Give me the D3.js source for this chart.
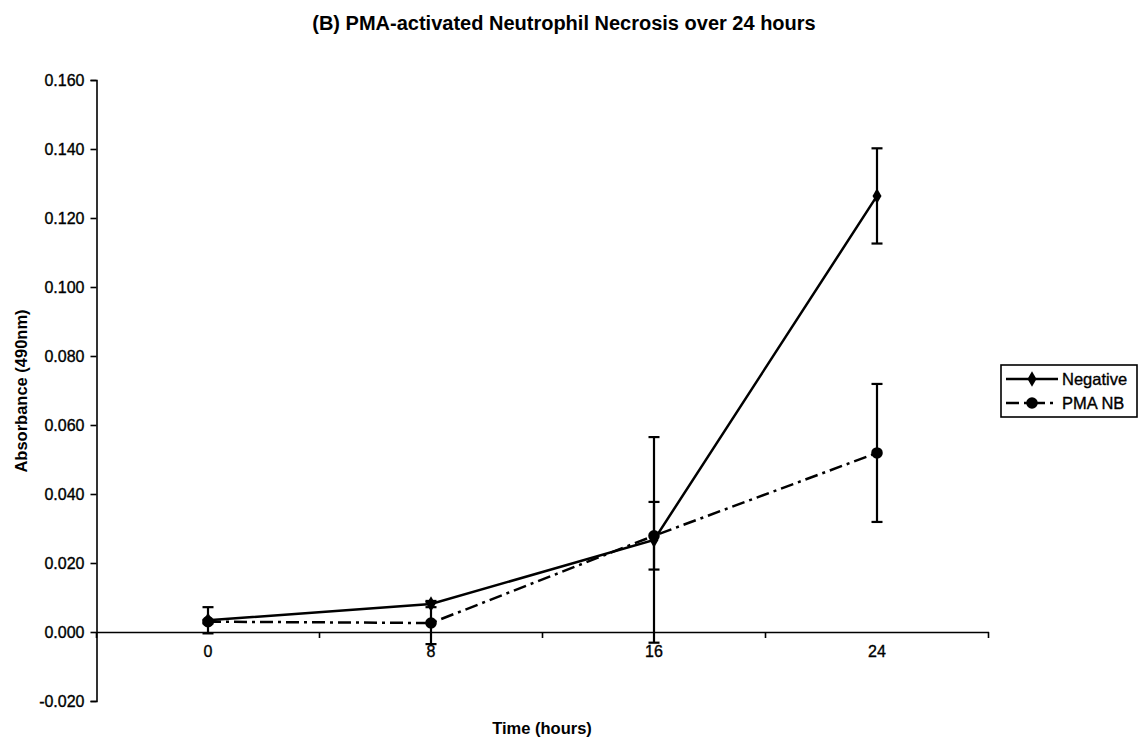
<!DOCTYPE html>
<html>
<head>
<meta charset="utf-8">
<script src="https://cdn.jsdelivr.net/npm/d3@7"></script>
<style>
  body { margin: 0; background: white; }
  text { font-family: "Liberation Sans", Arial, Helvetica, sans-serif; }
</style>
</head>
<body>
<div id="container"></div>
<script>
let w = 1141;
let h = 740;

// the values
let times = ["0", "8", "16", "24"];
let negative = [0.0034, 0.0081, 0.0267, 0.1264];
let negativeErr = [0.0038, 0.0009, 0.0298, 0.0138];
let pmaNB = [0.0030, 0.0026, 0.0279, 0.0519];
let pmaNBErr = [0.0005, 0.0061, 0.0098, 0.0200];

let yTicks = [-0.02, 0, 0.02, 0.04, 0.06, 0.08, 0.10, 0.12, 0.14, 0.16];
let yTickLabels = ["-0.020", "0.000", "0.020", "0.040", "0.060", "0.080", "0.100", "0.120", "0.140", "0.160"];

let seriesNames = ["Negative", "PMA NB"];

let viz = d3.select("#container")
  .append("svg")
    .attr("width", w)
    .attr("height", h)
    .style("background-color", "white")
;

// plot area ("top" is taken by window.top, hence the prefix)
let plotLeft = 96.5;
let plotRight = 988.5;
let plotTop = 80;
let plotBottom = 701;

let xScale = d3.scaleBand().domain(times).range([plotLeft, plotRight]);
let yScale = d3.scaleLinear().domain([-0.02, 0.16]).range([plotBottom, plotTop]);

// y axis
let yAxis = d3.axisLeft(yScale)
  .tickValues(yTicks)
  .tickSize(6)
  .tickPadding(6)
  .tickFormat(function(d, i){ return yTickLabels[i]; });
let yAxisGroup = viz.append("g").attr("class", "yaxis")
  .attr("transform", "translate(" + plotLeft + ",0)")
  .call(yAxis);
yAxisGroup.select(".domain").attr("stroke", "#000").attr("stroke-width", 1.6);
yAxisGroup.selectAll(".tick line").attr("stroke", "#000").attr("stroke-width", 1.6);
yAxisGroup.selectAll("text")
  .attr("font-size", 16).attr("fill", "#000")
  .attr("stroke", "#000").attr("stroke-width", 0.35);

// x axis sits on zero
let xAxis = d3.axisBottom(xScale).tickSize(0).tickPadding(14);
let xAxisGroup = viz.append("g").attr("class", "xaxis")
  .attr("transform", "translate(0," + yScale(0) + ")")
  .call(xAxis);
xAxisGroup.select(".domain").attr("stroke", "#000").attr("stroke-width", 1.6);
xAxisGroup.selectAll("text")
  .attr("font-size", 16).attr("fill", "#000")
  .attr("stroke", "#000").attr("stroke-width", 0.35);

// tick marks between the categories
let boundaries = times.map(function(d){ return xScale(d); }).concat([plotRight]);
xAxisGroup.selectAll(".bound").data(boundaries).enter()
  .append("line")
    .attr("class", "bound")
    .attr("x1", function(d){ return d; })
    .attr("x2", function(d){ return d; })
    .attr("y1", 0)
    .attr("y2", 6)
    .attr("stroke", "#000")
    .attr("stroke-width", 1.6)
;

function cx(i){
  return xScale(times[i]) + xScale.bandwidth() / 2;
}

let line = d3.line()
  .x(function(d, i){ return cx(i); })
  .y(function(d){ return yScale(d); });

let series = [
  { name: seriesNames[0], values: negative, err: negativeErr, dash: null, marker: "diamond" },
  { name: seriesNames[1], values: pmaNB, err: pmaNBErr, dash: "13,5,3,5", marker: "circle" }
];

function markerPath(s){
  return s.marker == "diamond"
    ? d3.symbol().type(d3.symbolDiamond).size(70)()
    : d3.symbol().type(d3.symbolCircle).size(105)();
}

let plot = viz.append("g").attr("class", "plot");

series.forEach(function(s){
  let g = plot.append("g").attr("class", "series");

  // error bars
  let eb = g.selectAll(".err").data(s.values).enter().append("g").attr("class", "err");
  eb.append("line")
    .attr("x1", function(d, i){ return cx(i); })
    .attr("x2", function(d, i){ return cx(i); })
    .attr("y1", function(d, i){ return yScale(d - s.err[i]); })
    .attr("y2", function(d, i){ return yScale(d + s.err[i]); })
    .attr("stroke", "#000").attr("stroke-width", 2.2);
  [-1, 1].forEach(function(sign){
    eb.append("line")
      .attr("x1", function(d, i){ return cx(i) - 5.5; })
      .attr("x2", function(d, i){ return cx(i) + 5.5; })
      .attr("y1", function(d, i){ return yScale(d + sign * s.err[i]); })
      .attr("y2", function(d, i){ return yScale(d + sign * s.err[i]); })
      .attr("stroke", "#000").attr("stroke-width", 2.2);
  });

  g.append("path")
    .datum(s.values)
    .attr("d", line)
    .attr("fill", "none")
    .attr("stroke", "#000")
    .attr("stroke-width", 2.5)
    .attr("stroke-dasharray", s.dash);

  g.selectAll(".marker").data(s.values).enter()
    .append("path")
      .attr("class", "marker")
      .attr("d", markerPath(s))
      .attr("transform", function(d, i){ return "translate(" + cx(i) + "," + yScale(d) + ")"; })
      .attr("fill", "#000")
  ;
});

// title and axis titles
viz.append("text")
  .text("(B) PMA-activated Neutrophil Necrosis over 24 hours")
  .attr("x", 564)
  .attr("y", 30)
  .attr("text-anchor", "middle")
  .attr("font-size", 20)
  .attr("font-weight", "bold");

viz.append("text")
  .text("Time (hours)")
  .attr("x", 542)
  .attr("y", 734)
  .attr("text-anchor", "middle")
  .attr("font-size", 16.5)
  .attr("font-weight", "bold");

viz.append("text")
  .text("Absorbance (490nm)")
  .attr("transform", "translate(27,391) rotate(-90)")
  .attr("text-anchor", "middle")
  .attr("font-size", 16.5)
  .attr("font-weight", "bold");

// legend
let legend = viz.append("g").attr("class", "legend").attr("transform", "translate(1001,365)");
legend.append("rect")
  .attr("width", 136).attr("height", 52)
  .attr("fill", "white").attr("stroke", "#000").attr("stroke-width", 1.6);

series.forEach(function(s, i){
  let row = legend.append("g").attr("transform", "translate(0," + (14 + i * 24) + ")");
  row.append("line")
    .attr("x1", 5).attr("x2", 57)
    .attr("stroke", "#000").attr("stroke-width", 2.5)
    .attr("stroke-dasharray", s.dash);
  row.append("path").attr("d", markerPath(s)).attr("transform", "translate(31,0)").attr("fill", "#000");
  row.append("text")
    .text(s.name)
    .attr("x", 61)
    .attr("y", 6)
    .attr("font-size", 16.5)
    .attr("stroke", "#000")
    .attr("stroke-width", 0.35);
});
</script>
</body>
</html>
